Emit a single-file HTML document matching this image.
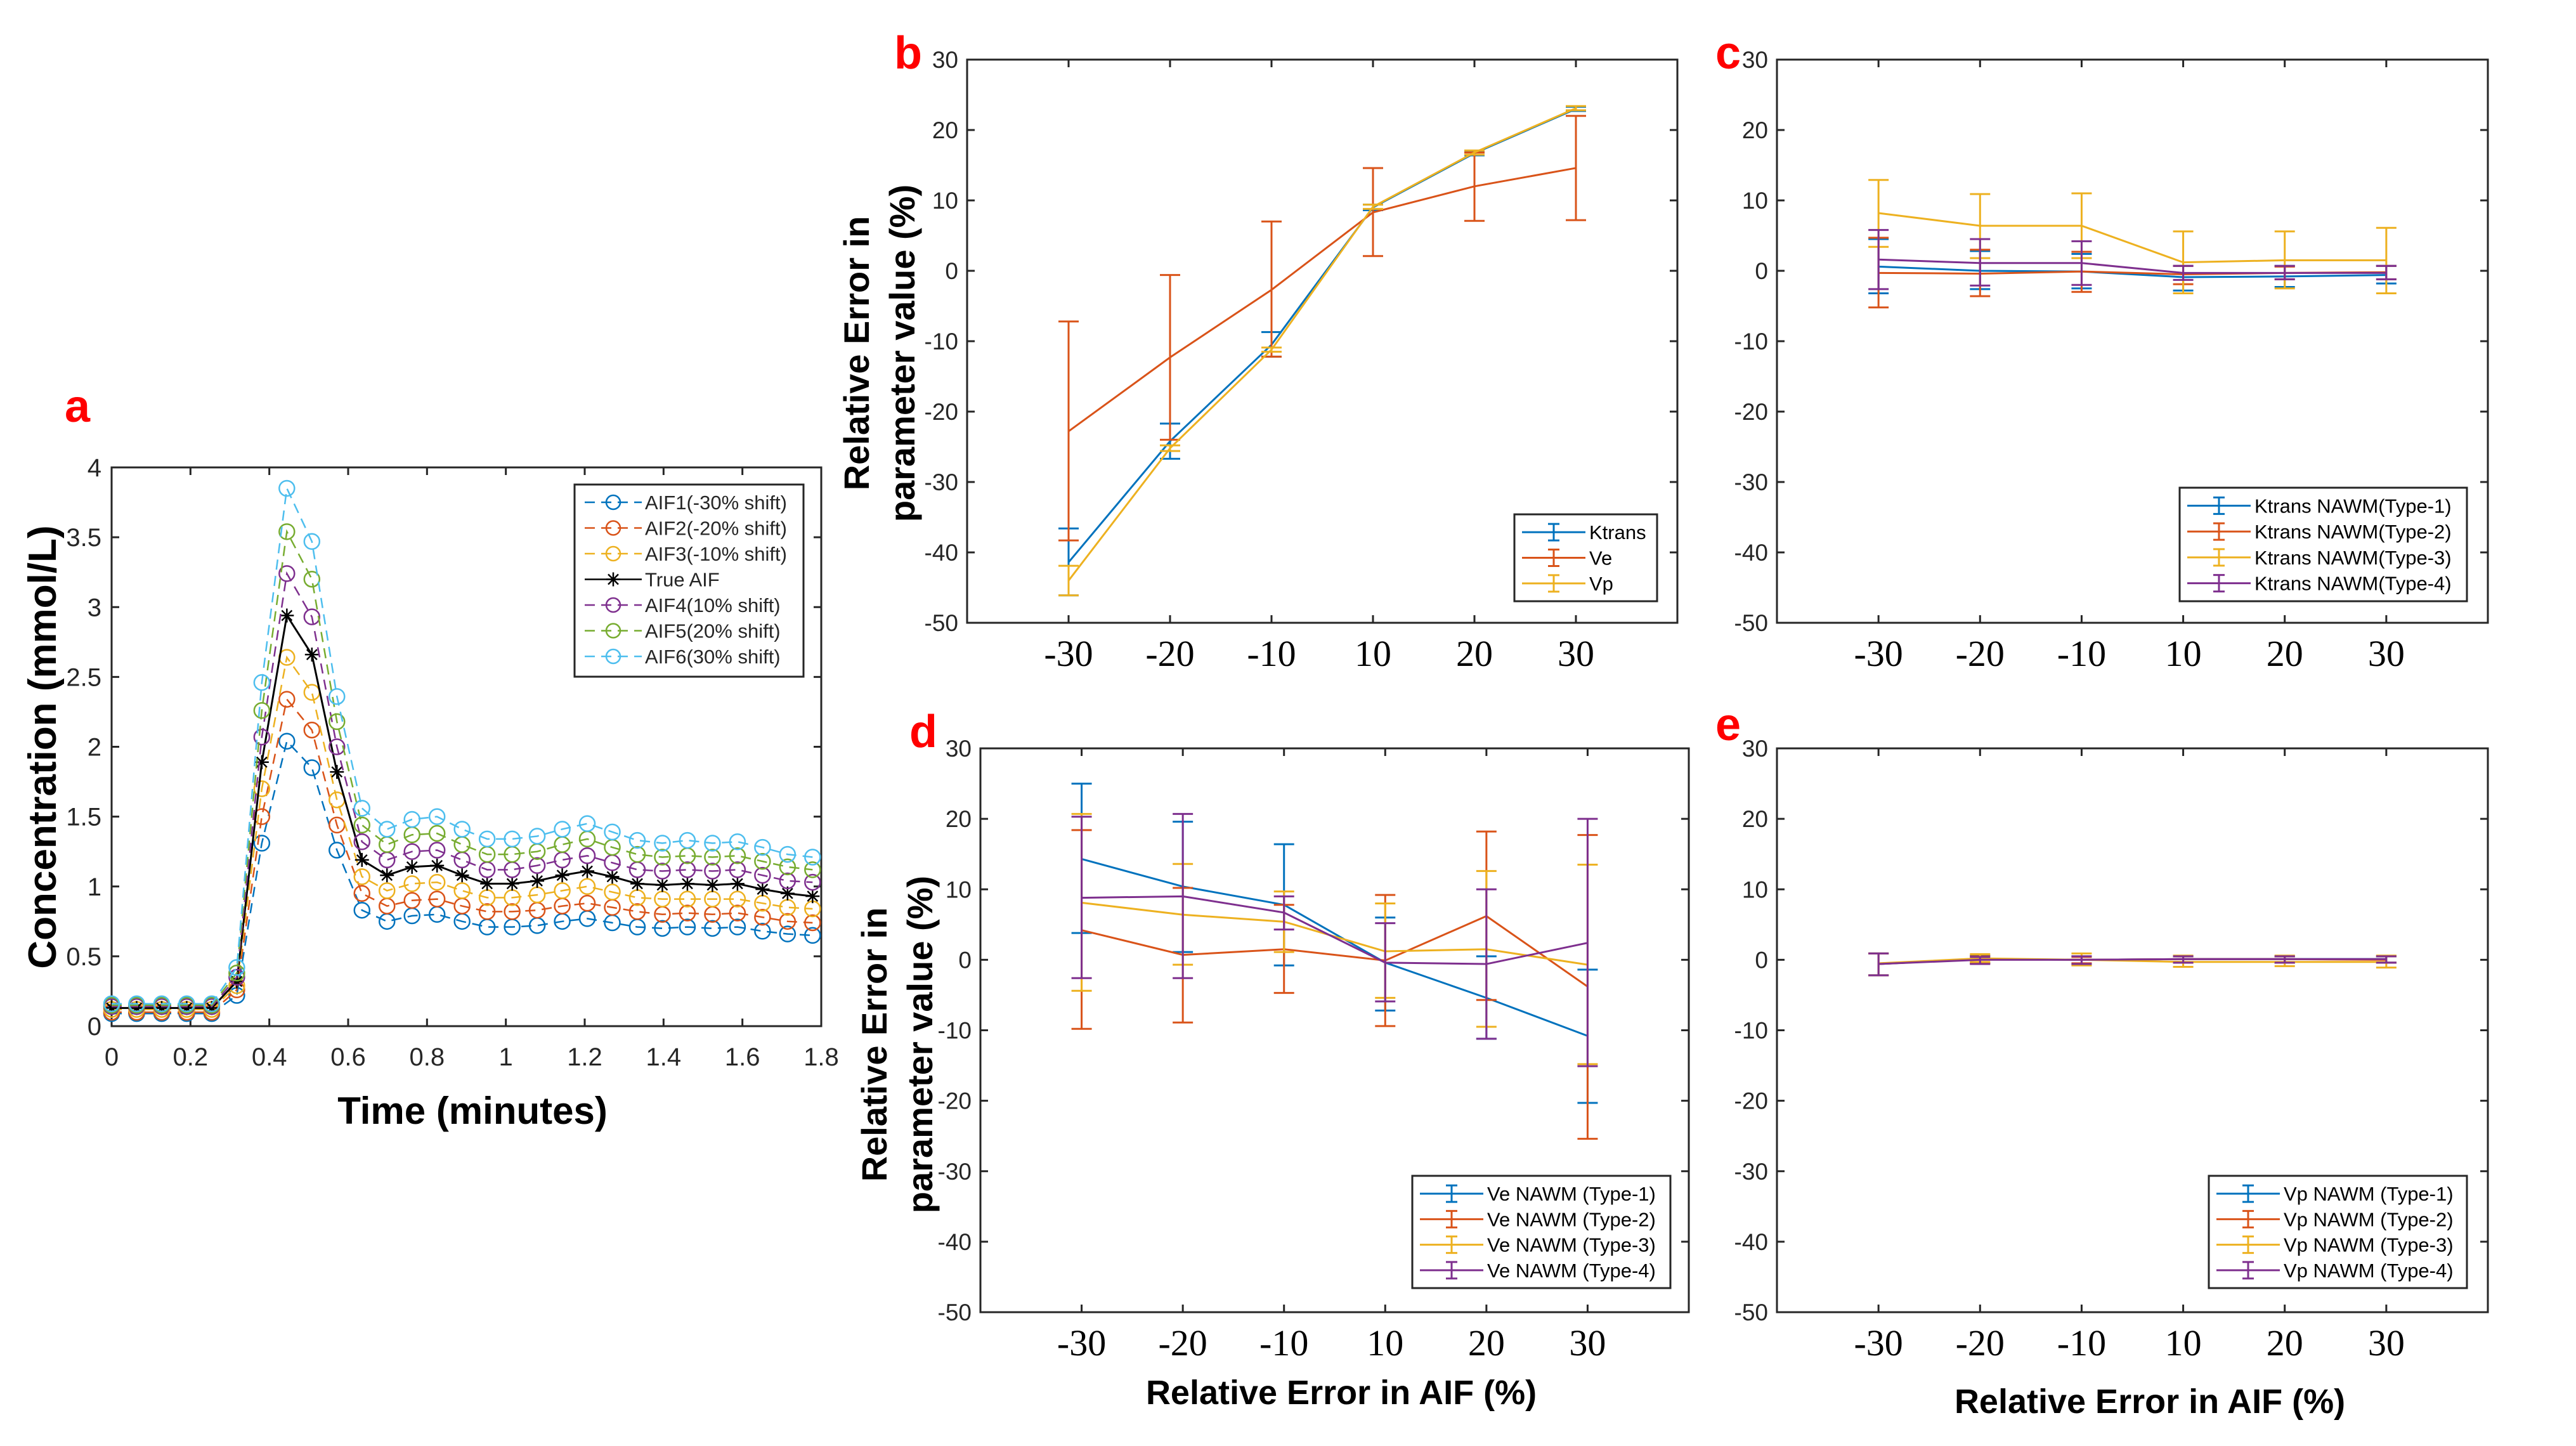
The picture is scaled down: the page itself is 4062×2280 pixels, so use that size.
<!DOCTYPE html>
<html>
<head>
<meta charset="utf-8">
<style>
html,body{margin:0;padding:0;background:#fff;}
svg{display:block;}
</style>
</head>
<body>
<svg id="fig" xmlns="http://www.w3.org/2000/svg" width="4062" height="2280" viewBox="0 0 4062 2280" font-family="Liberation Sans, sans-serif"></svg>
<script>
// ---------- Panel a data ----------
const aTimeStep = 0.0635;
const aXTicks = ["0","0.2","0.4","0.6","0.8","1","1.2","1.4","1.6","1.8"];
const aYTicks = ["0","0.5","1","1.5","2","2.5","3","3.5","4"];
const aLegend = ["AIF1(-30% shift)","AIF2(-20% shift)","AIF3(-10% shift)","True AIF","AIF4(10% shift)","AIF5(20% shift)","AIF6(30% shift)"];
const aif1 = [0.09,0.09,0.09,0.09,0.09,0.22,1.31,2.04,1.85,1.26,0.83,0.75,0.79,0.80,0.75,0.71,0.71,0.72,0.75,0.77,0.74,0.71,0.70,0.71,0.70,0.71,0.68,0.66,0.65];
const aif2 = [0.10,0.10,0.10,0.10,0.10,0.26,1.50,2.34,2.12,1.44,0.95,0.86,0.90,0.91,0.86,0.82,0.82,0.83,0.86,0.88,0.85,0.82,0.80,0.81,0.80,0.81,0.78,0.75,0.74];
const aif3 = [0.12,0.12,0.12,0.12,0.12,0.29,1.70,2.64,2.39,1.62,1.07,0.97,1.02,1.03,0.97,0.92,0.92,0.94,0.97,1.00,0.96,0.92,0.91,0.91,0.91,0.91,0.88,0.85,0.84];
const aifTrue = [0.13,0.13,0.13,0.13,0.13,0.32,1.89,2.94,2.66,1.82,1.19,1.08,1.14,1.15,1.08,1.02,1.02,1.04,1.08,1.11,1.07,1.02,1.01,1.02,1.01,1.02,0.98,0.95,0.93];
const aif4 = [0.14,0.14,0.14,0.14,0.14,0.35,2.07,3.24,2.93,2.00,1.32,1.19,1.25,1.26,1.19,1.12,1.12,1.15,1.19,1.22,1.17,1.12,1.11,1.12,1.11,1.12,1.08,1.04,1.03];
const aif5 = [0.15,0.15,0.15,0.15,0.15,0.38,2.26,3.54,3.20,2.18,1.44,1.30,1.37,1.38,1.30,1.23,1.23,1.25,1.30,1.34,1.28,1.23,1.21,1.22,1.21,1.22,1.18,1.14,1.12];
const aif6 = [0.16,0.16,0.16,0.16,0.16,0.42,2.46,3.85,3.47,2.36,1.56,1.41,1.48,1.50,1.41,1.34,1.34,1.36,1.41,1.45,1.39,1.33,1.31,1.33,1.31,1.32,1.28,1.23,1.21];

// ---------- Error-bar panels data ----------
const errCats = ["-30","-20","-10","10","20","30"];
const errYTicks = ["-50","-40","-30","-20","-10","0","10","20","30"];
// panel b
const bKtrans = [-41.4,-24.2,-10.5,9.0,16.7,23.0];
const bKtransHi = [-36.6,-21.7,-8.7,9.4,17.0,23.3];
const bKtransLo = [-46.1,-26.7,-12.2,8.6,16.4,22.7];
const bVe = [-22.8,-12.3,-2.7,8.3,12.0,14.6];
const bVeHi = [-7.2,-0.6,7.0,14.6,16.8,22.0];
const bVeLo = [-38.3,-24.0,-12.2,2.1,7.1,7.2];
const bVp = [-44.0,-25.2,-11.2,9.1,16.8,23.1];
const bVpHi = [-41.9,-24.8,-10.9,9.4,17.1,23.4];
const bVpLo = [-46.1,-25.6,-11.5,8.8,16.5,22.8];
// panel c
const cT1 = [0.6,0.0,-0.1,-0.9,-0.8,-0.6];
const cT1Hi = [4.5,2.8,2.4,0.7,0.7,0.7];
const cT1Lo = [-3.2,-2.6,-2.5,-2.8,-2.3,-1.8];
const cT2 = [-0.3,-0.4,-0.1,-0.5,-0.3,-0.2];
const cT2Hi = [4.7,3.0,2.7,0.7,0.6,0.7];
const cT2Lo = [-5.2,-3.6,-3.0,-1.9,-1.2,-1.2];
const cT3 = [8.2,6.4,6.4,1.2,1.5,1.5];
const cT3Hi = [12.9,10.9,11.0,5.6,5.6,6.1];
const cT3Lo = [3.4,1.8,1.8,-3.2,-2.5,-3.2];
const cT4 = [1.6,1.1,1.1,-0.3,-0.3,-0.3];
const cT4Hi = [5.8,4.5,4.2,0.7,0.7,0.7];
const cT4Lo = [-2.6,-2.1,-2.0,-1.3,-1.2,-1.2];
// panel d
const dT1 = [14.3,10.4,7.8,-0.4,-5.4,-10.8];
const dT1Hi = [25.0,19.6,16.4,6.0,0.5,-1.4];
const dT1Lo = [3.8,1.1,-0.8,-7.2,-11.2,-20.3];
const dT2 = [4.2,0.7,1.5,-0.1,6.2,-3.8];
const dT2Hi = [18.4,10.2,7.8,9.2,18.2,17.7];
const dT2Lo = [-9.8,-8.9,-4.7,-9.4,-5.7,-25.4];
const dT3 = [8.1,6.4,5.4,1.2,1.5,-0.7];
const dT3Hi = [20.7,13.6,9.7,8.0,12.6,13.5];
const dT3Lo = [-4.4,-0.7,1.1,-5.4,-9.5,-14.8];
const dT4 = [8.8,9.0,6.7,-0.4,-0.6,2.4];
const dT4Hi = [20.3,20.7,9.0,5.2,10.0,20.0];
const dT4Lo = [-2.6,-2.6,4.3,-5.9,-11.2,-15.1];
// panel e
const eT1 = [-0.6,0.1,0.0,0.1,0.1,0.1];
const eT1Hi = [0.9,0.6,0.5,0.5,0.5,0.5];
const eT1Lo = [-2.2,-0.5,-0.6,-0.4,-0.4,-0.4];
const eT2 = [-0.6,0.1,0.0,0.1,0.1,0.0];
const eT2Hi = [0.9,0.5,0.4,0.5,0.5,0.5];
const eT2Lo = [-2.2,-0.5,-0.5,-0.4,-0.4,-0.4];
const eT3 = [-0.5,0.2,0.0,-0.3,-0.3,-0.3];
const eT3Hi = [0.9,0.8,0.9,0.6,0.6,0.6];
const eT3Lo = [-2.2,-0.3,-0.8,-1.0,-0.9,-1.1];
const eT4 = [-0.6,0.0,0.0,0.1,0.1,0.1];
const eT4Hi = [0.9,0.4,0.5,0.5,0.5,0.5];
const eT4Lo = [-2.2,-0.6,-0.6,-0.4,-0.4,-0.4];

const C = ["#0072BD","#D95319","#EDB120","#7E2F8E","#77AC30","#4DBEEE"];
const NS = "http://www.w3.org/2000/svg";
const svg = document.getElementById("fig");

function mk(tag, attrs, parent){
  const e = document.createElementNS(NS, tag);
  for (const k in attrs) e.setAttribute(k, attrs[k]);
  (parent||svg).appendChild(e);
  return e;
}
function txt(s, x, y, size, opts, parent){
  const t = mk("text", Object.assign({x:x, y:y, "font-size":size, fill:"#262626"}, opts||{}), parent);
  t.textContent = s;
  return t;
}

// ---------------- Panel a ----------------
(function(){
  const L=176,R=1295,T=737,B=1618;
  const g = mk("g",{});
  
  
  const xs = v => L + v/1.8*(R-L);
  const ys = v => B - v/4*(B-T);
  const box = mk("rect",{x:L,y:T,width:R-L,height:B-T,fill:"none",stroke:"#262626","stroke-width":3},g);
  
  
  aXTicks.forEach((s,i)=>{
    const v=parseFloat(s), x=xs(v);
    mk("line",{x1:x,y1:B,x2:x,y2:B-12,stroke:"#262626","stroke-width":3},g);
    mk("line",{x1:x,y1:T,x2:x,y2:T+12,stroke:"#262626","stroke-width":3},g);
    const t=txt(s,x,B+62,40,{"text-anchor":"middle"},g);
    
    
  });
  aYTicks.forEach((s,i)=>{
    const v=parseFloat(s), y=ys(v);
    mk("line",{x1:L,y1:y,x2:L+12,y2:y,stroke:"#262626","stroke-width":3},g);
    mk("line",{x1:R,y1:y,x2:R-12,y2:y,stroke:"#262626","stroke-width":3},g);
    const t=txt(s,L-16,y+14,40,{"text-anchor":"end"},g);
    
    
  });
  const series=[aif1,aif2,aif3,aifTrue,aif4,aif5,aif6];
  const cols=[C[0],C[1],C[2],"#000",C[3],C[4],C[5]];
  const names=['aif1-line','aif2-line','aif3-line','true-aif-line','aif4-line','aif5-line','aif6-line'];
  function star(cx,cy,col,parent){
    const r=11;
    return mk("path",{d:`M${cx-r},${cy}H${cx+r}M${cx},${cy-r}V${cy+r}M${cx-8},${cy-8}L${cx+8},${cy+8}M${cx-8},${cy+8}L${cx+8},${cy-8}`,stroke:col,"stroke-width":2.5,fill:"none"},parent);
  }
  series.forEach((arr,si)=>{
    const pts = arr.map((v,i)=>xs(i*aTimeStep)+","+ys(v)).join(" ");
    const isTrue = si===3;
    const pl = mk("polyline",{points:pts,fill:"none",stroke:cols[si],"stroke-width":isTrue?3:2.5,"stroke-dasharray":isTrue?"none":"16 10"},g);
    
    
    arr.forEach((v,i)=>{
      const cx=xs(i*aTimeStep), cy=ys(v);
      if(isTrue){
        const m = star(cx,cy,"#000",g);
        
        
      } else {
        const c = mk("circle",{cx:cx,cy:cy,r:12,fill:"none",stroke:cols[si],"stroke-width":2.5},g);
        
        
      }
    });
  });
  // legend
  const lg = mk("g",{},g);
  
  
  mk("rect",{x:906,y:764,width:361,height:303,fill:"#fff",stroke:"#262626","stroke-width":3},lg);
  aLegend.forEach((s,i)=>{
    const y=792+i*40.5;
    const isTrue=i===3;
    mk("line",{x1:922,y1:y,x2:1012,y2:y,stroke:cols[i],"stroke-width":2.5,"stroke-dasharray":isTrue?"none":"16 10"},lg);
    if(isTrue){ star(967,y,"#000",lg); }
    else mk("circle",{cx:967,cy:y,r:11,fill:"none",stroke:cols[i],"stroke-width":2.5},lg);
    const t=txt(s,1017,y+11,31,{},lg);
    
    
  });
  const yt=txt("Concentration (mmol/L)",0,0,62,{"font-weight":"bold","text-anchor":"middle",fill:"#000",transform:"translate(88,1178) rotate(-90)"},g);
  
  
  const xt=txt("Time (minutes)",745,1772,60,{"font-weight":"bold","text-anchor":"middle",fill:"#000"},g);
  
  
})();

// ---------------- Error-bar panels ----------------
function errPanel(name, L,R,T,B, series, legend, legBox){
  const g = mk("g",{});
  
  
  const xs = i => L + (i+1)/7*(R-L);
  const ys = v => B - (v+50)/80*(B-T);
  const box = mk("rect",{x:L,y:T,width:R-L,height:B-T,fill:"none",stroke:"#262626","stroke-width":3},g);
  
  
  errCats.forEach((s,i)=>{
    const x=xs(i);
    mk("line",{x1:x,y1:B,x2:x,y2:B-12,stroke:"#262626","stroke-width":3},g);
    mk("line",{x1:x,y1:T,x2:x,y2:T+12,stroke:"#262626","stroke-width":3},g);
    const t=txt(s,x,B+68,58,{"text-anchor":"middle",fill:"#000","font-family":"Liberation Serif, serif"},g);
    
    
  });
  errYTicks.forEach(s=>{
    const y=ys(parseFloat(s));
    mk("line",{x1:L,y1:y,x2:L+12,y2:y,stroke:"#262626","stroke-width":3},g);
    mk("line",{x1:R,y1:y,x2:R-12,y2:y,stroke:"#262626","stroke-width":3},g);
    const t=txt(s,L-14,y+13,37,{"text-anchor":"end"},g);
    
    
  });
  series.forEach((s,si)=>{
    const col=C[si];
    const pts=s.v.map((v,i)=>xs(i)+","+ys(v)).join(" ");
    const pl=mk("polyline",{points:pts,fill:"none",stroke:col,"stroke-width":3},g);
    
    
    s.v.forEach((v,i)=>{
      const x=xs(i), y1=ys(s.hi[i]), y2=ys(s.lo[i]);
      const eb=mk("path",{d:`M${x},${y1}V${y2}M${x-16},${y1}H${x+16}M${x-16},${y2}H${x+16}`,stroke:col,"stroke-width":3,fill:"none"},g);
      
      
    });
  });
  const lg=mk("g",{},g);
  
  
  const [lx,ly,lw,lh]=legBox;
  mk("rect",{x:lx,y:ly,width:lw,height:lh,fill:"#fff",stroke:"#262626","stroke-width":3},lg);
  const step=(lh-16)/legend.length;
  legend.forEach((s,i)=>{
    const y=ly+8+step*(i+0.5);
    mk("line",{x1:lx+12,y1:y,x2:lx+112,y2:y,stroke:C[i],"stroke-width":3},lg);
    mk("path",{d:`M${lx+62},${y-13}V${y+13}M${lx+53},${y-13}H${lx+71}M${lx+53},${y+13}H${lx+71}`,stroke:C[i],"stroke-width":3,fill:"none"},lg);
    const t=txt(s,lx+118,y+11,31,{fill:"#000"},lg);
    
    
  });
  return g;
}

errPanel("panel-b",1525,2645,94,982,
  [{v:bKtrans,hi:bKtransHi,lo:bKtransLo},{v:bVe,hi:bVeHi,lo:bVeLo},{v:bVp,hi:bVpHi,lo:bVpLo}],
  ["Ktrans","Ve","Vp"],[2388,811,225,137]);
errPanel("panel-c",2802,3923,94,982,
  [{v:cT1,hi:cT1Hi,lo:cT1Lo},{v:cT2,hi:cT2Hi,lo:cT2Lo},{v:cT3,hi:cT3Hi,lo:cT3Lo},{v:cT4,hi:cT4Hi,lo:cT4Lo}],
  ["Ktrans NAWM(Type-1)","Ktrans NAWM(Type-2)","Ktrans NAWM(Type-3)","Ktrans NAWM(Type-4)"],[3437,769,453,179]);
errPanel("panel-d",1546,2663,1180,2069,
  [{v:dT1,hi:dT1Hi,lo:dT1Lo},{v:dT2,hi:dT2Hi,lo:dT2Lo},{v:dT3,hi:dT3Hi,lo:dT3Lo},{v:dT4,hi:dT4Hi,lo:dT4Lo}],
  ["Ve NAWM (Type-1)","Ve NAWM (Type-2)","Ve NAWM (Type-3)","Ve NAWM (Type-4)"],[2227,1854,407,177]);
errPanel("panel-e",2802,3923,1180,2069,
  [{v:eT1,hi:eT1Hi,lo:eT1Lo},{v:eT2,hi:eT2Hi,lo:eT2Lo},{v:eT3,hi:eT3Hi,lo:eT3Lo},{v:eT4,hi:eT4Hi,lo:eT4Lo}],
  ["Vp NAWM (Type-1)","Vp NAWM (Type-2)","Vp NAWM (Type-3)","Vp NAWM (Type-4)"],[3483,1854,407,177]);

// axis titles for error panels
function two(lines, cx, cy, name){
  const t1=txt(lines[0],0,0,56,{"font-weight":"bold","text-anchor":"middle",fill:"#000",transform:`translate(${cx-18},${cy}) rotate(-90)`});
  
  
  const t2=txt(lines[1],0,0,56,{"font-weight":"bold","text-anchor":"middle",fill:"#000",transform:`translate(${cx+54},${cy}) rotate(-90)`});
  
  
}
two(["Relative Error in","parameter value (%)"],1388,557,"panel-b-y-axis-title");
two(["Relative Error in","parameter value (%)"],1416,1647,"panel-d-y-axis-title");
const xd=txt("Relative Error in AIF (%)",2115,2214,54,{"font-weight":"bold","text-anchor":"middle",fill:"#000"});


const xe=txt("Relative Error in AIF (%)",3390,2228,54,{"font-weight":"bold","text-anchor":"middle",fill:"#000"});



// panel letters
[["a",122,665],["b",1432,108],["c",2725,108],["d",1456,1178],["e",2725,1167]].forEach(p=>{
  const t=txt(p[0],p[1],p[2],72,{"font-weight":"bold","text-anchor":"middle",fill:"#FF0000"});
  
  
});
</script>
</body>
</html>
